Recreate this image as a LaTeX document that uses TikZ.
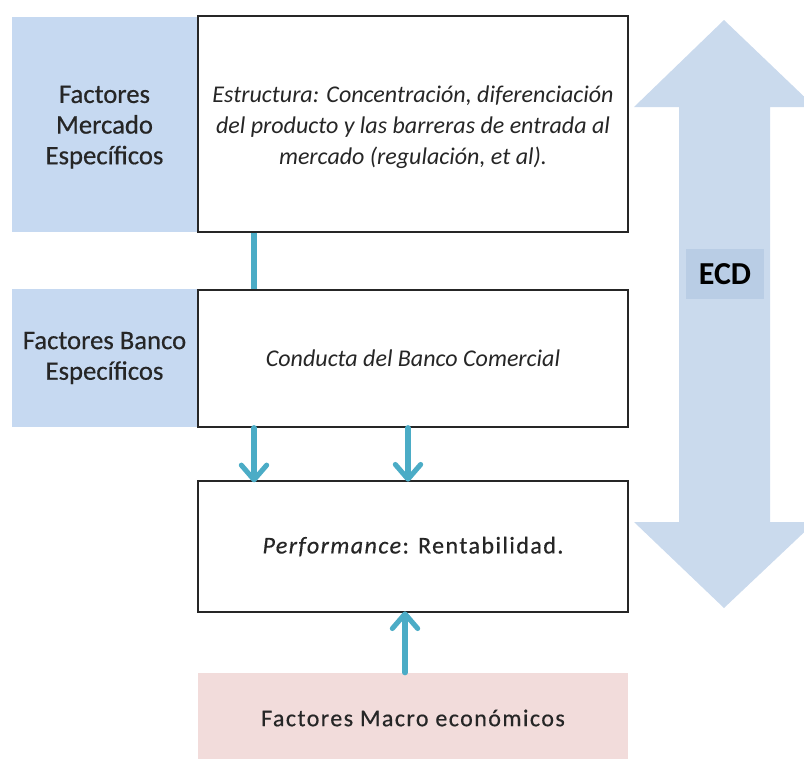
\documentclass[tikz,border=0pt]{standalone}
\usepackage{fontspec}
\setmainfont{Carlito}
\newfontfamily\heavyfont[FakeBold=0.5]{Carlito}
\newfontfamily\spacedfont[FakeBold=0.5, LetterSpace=6]{Carlito}
\usetikzlibrary{arrows.meta}

\definecolor{factblue}{HTML}{C6D9F1}
\definecolor{ecdarrow}{HTML}{CADAED}
\definecolor{ecdlabel}{HTML}{B9CDE5}
\definecolor{flowteal}{HTML}{4BACC6}
\definecolor{macropink}{HTML}{F2DCDB}
\definecolor{txt}{HTML}{262626}

\tikzset{
  factorbox/.style={fill=factblue, draw=none, minimum width=185*0.75pt},
  factortext/.style={align=center, text=txt, font=\heavyfont\fontsize{20}{23}\selectfont},
  stagebox/.style={draw=black!85, line width=1pt, fill=white, minimum width=430*0.75pt,
    align=center, text=txt, font=\fontsize{18}{23.3}\selectfont},
  link/.style={draw=flowteal, line width=3.8pt, line cap=round},
  flow/.style={link, -{Straight Barb[length=11pt, width=19pt, line cap=round, line join=round]}},
}

\begin{document}
\begin{tikzpicture}[x=0.75pt, y=-0.75pt]
  \useasboundingbox (0,0) rectangle (804,758);
  \clip (0,0) rectangle (804,758);

  % double-headed ECD arrow on the right
  \fill[ecdarrow] (724,20) -- (815,107) -- (770,107) -- (770,522) -- (815,522)
    -- (724,608) -- (634,522) -- (679,522) -- (679,107) -- (634,107) -- cycle;
  \node[fill=ecdlabel, minimum width=78*0.75pt, minimum height=50*0.75pt,
    font=\fontsize{24}{26}\selectfont\bfseries, text=black] (ecd) at (725,274) {ECD};

  % left-hand factor boxes
  \node[factorbox, minimum height=215*0.75pt] (fmercado) at (104.5,124.5) {};
  \node[factortext] (fmercadotxt) at ([yshift=-2pt]fmercado.center)
    {Factores\\Mercado\\Específicos};
  \node[factorbox, minimum height=138*0.75pt] (fbanco) at (104.5,358) {};
  \node[factortext] (fbancotxt) at (fbanco.center) {Factores Banco\\Específicos};

  % structure - conduct - performance chain
  \node[stagebox, minimum height=216*0.75pt] (estructura) at (413,124) {};
  \node[align=center, text=txt, font=\fontsize{18}{23.3}\selectfont] (estructuratxt)
    at ([yshift=-2.5pt]estructura.center)
    {\itshape Estructura: Concentración, diferenciación\\
     \itshape del producto y las barreras de entrada al\\
     \itshape mercado (regulación, et al).};
  \node[stagebox, minimum height=137*0.75pt] (conducta) at (413,358.5)
    {\itshape Conducta del Banco Comercial};
  \node[stagebox, minimum height=131*0.75pt] (performance) at (413,546.5)
    {\spacedfont\textit{Performance}: Rentabilidad.};
  \node[fill=macropink, minimum width=430*0.75pt, minimum height=90*0.75pt,
    text=txt, font=\spacedfont\fontsize{18}{22}\selectfont] (macro) at (413,718)
    {Factores Macro económicos};

  % connectors
  \draw[link, line cap=butt] (estructura.south -| 254,0) -- (conducta.north -| 254,0);
  \draw[flow] (conducta.south -| 254,0) -- ([yshift=-1.5pt]performance.north -| 254,0);
  \draw[flow] (conducta.south -| 408,0) -- ([yshift=-1pt]performance.north -| 408,0);
  \draw[flow] (macro.north -| 405,0) -- ([yshift=1pt]performance.south -| 405,0);
\end{tikzpicture}
\end{document}
